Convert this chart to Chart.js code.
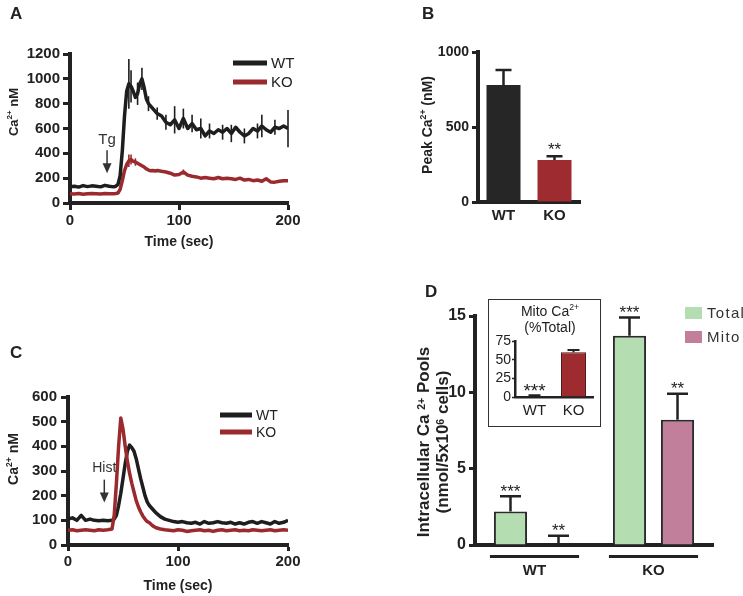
<!DOCTYPE html>
<html>
<head>
<meta charset="utf-8">
<script src="https://cdn.jsdelivr.net/npm/chart.js@4.4.1/dist/chart.umd.min.js"></script>
<style>
  body { margin: 0; width: 743px; height: 596px; position: relative; overflow: hidden; background: #fff;
         font-family: 'Liberation Sans', Arial, sans-serif; color: #222; }
  canvas.full { position: absolute; left: 0; top: 0; }
  .txt { position: absolute; white-space: nowrap; line-height: 1; }
  .letter { font-weight: bold; font-size: 17px; }
  .ytitle { font-weight: bold; transform: translate(-50%, -50%) rotate(-90deg); text-align: center; }
  sup { font-size: 62%; vertical-align: top; position: relative; top: -0.15em; }
  #insetBox { position: absolute; left: 488px; top: 299px; width: 113px; height: 128px;
              border: 1.5px solid #333; box-sizing: border-box; background: #fff; }
  #cI { position: absolute; left: 488px; top: 299px; }
</style>
</head>
<body>
<canvas id="cA" class="full" width="743" height="596"></canvas>
<canvas id="cB" class="full" width="743" height="596"></canvas>
<canvas id="cC" class="full" width="743" height="596"></canvas>
<canvas id="cD" class="full" width="743" height="596"></canvas>
<div id="insetBox"></div>
<canvas id="cI" width="113" height="128"></canvas>

<div class="txt letter" style="left:10px;top:5px">A</div>
<div class="txt letter" style="left:422px;top:5px">B</div>
<div class="txt letter" style="left:10px;top:344px">C</div>
<div class="txt letter" style="left:425px;top:283px">D</div>

<div class="txt ytitle" style="left:13px;top:112px;font-size:13px">Ca<sup>2+</sup> nM</div>
<div class="txt ytitle" style="left:427px;top:125px;font-size:14px">Peak Ca<sup>2+</sup> (nM)</div>
<div class="txt ytitle" style="left:13px;top:459px;font-size:14px">Ca<sup>2+</sup> nM</div>
<div class="txt ytitle" style="left:433px;top:442px;font-size:17px;line-height:19px">Intracellular Ca <sup>2+</sup> Pools<br>(nmol/5x10<sup>6</sup> cells)</div>

<div class="txt" style="left:550px;top:311px;font-size:14px;transform:translate(-50%,-50%)">Mito Ca<sup>2+</sup></div>
<div class="txt" style="left:550px;top:327px;font-size:14px;transform:translate(-50%,-50%)">(%Total)</div>

<script>
// ---- data ----
const timeSec = [0,4,8,12,16,20,24,28,32,36,40,
  42,44,46,48,50,52,54,56,58,60,62,64,66,68,70,72,74,76,78,80,
  84,88,92,96,100,104,108,112,116,120,124,128,132,136,140,144,148,152,156,160,164,168,172,176,180,184,188,192,196,200]

// panel A, thapsigargin
const wtTg = [130,135,128,140,132,138,135,130,142,135,130,
  135,150,220,420,700,900,960,940,900,850,880,960,1000,930,840,800,780,760,740,720,
  700,650,630,670,600,680,600,640,590,600,540,580,560,590,570,600,560,610,570,540,560,600,580,620,590,570,610,600,620,600]
const koTg = [75,72,76,70,74,76,74,72,76,74,75,
  76,80,110,180,260,310,340,350,335,330,320,310,300,290,275,265,260,262,258,262,
  255,250,240,225,230,250,225,215,210,200,205,200,195,205,195,200,195,190,200,185,190,180,185,175,195,170,168,175,180,180]
const wtTgErrAt = [54,56,62,66,72,80,88,96,104,112,120,128,140,148,160,172,176,188,200]
const wtTgErr = [200,130,90,90,60,50,60,110,80,70,80,60,60,70,60,60,90,60,150]
const koTgErrAt = [54,56,60,104]
const koTgErr = [50,40,30,20]

// panel C, histamine
const wtHist = [105,110,100,120,100,105,100,98,100,98,100,
  105,120,160,210,270,330,380,405,395,380,350,310,270,235,200,175,160,150,140,130,
  115,105,100,95,92,95,90,88,92,85,95,88,90,95,90,88,92,85,90,85,92,95,88,95,90,85,95,88,92,100]
const koHist = [60,62,58,60,62,60,58,62,60,62,65,
  120,250,400,515,470,400,340,290,250,215,180,155,135,118,105,95,90,82,75,70,
  65,62,60,58,62,60,55,58,60,62,58,60,55,60,62,58,60,62,58,60,58,62,60,58,60,62,58,60,62,60]

// panel B
const genotypes = ['WT', 'KO']
const peakCa = [780, 280]
const peakErr = [100, 25]
const peakStars = ['', '**']

// panel D
const poolTotal = [2.2, 13.7]
const poolTotalErr = [1.0, 1.2]
const poolMito = [0, 8.2]
const poolMitoErr = [0.6, 1.7]
const totalStars = ['***', '***']
const mitoStars = ['**', '**']

// inset
const mitoPct = [1, 60]
const mitoPctErr = [1.5, 3]
const mitoPctStars = ['***', '']

const WT_COL = '#1e1e1e'
const KO_COL = '#9b2a2e'
const FONT = "'Liberation Sans', Arial, sans-serif"
Chart.defaults.font.family = FONT
Chart.defaults.color = '#222'
Chart.defaults.animation = false

// ---- helpers ----
function frame(left, top, right, bottom, yw, xh, w, h) {
  return { padding: { left: left - yw, top: top, right: (w || 743) - right, bottom: (h || 596) - bottom - xh } }
}
function yAxis(max, step, size, weight, yw, tl, pad, bw) {
  return {
    min: 0, max: max,
    ticks: { stepSize: step, autoSkip: false, font: { size: size, weight: weight }, color: '#222', padding: pad,
             callback: v => String(v) },
    grid: { drawOnChartArea: false, tickLength: tl, tickWidth: bw - 1, tickColor: '#222' },
    border: { width: bw, color: '#222' },
    afterFit: s => { s.width = yw }
  }
}
function catAxis(size, weight, pad, xh, bw) {
  return {
    ticks: { font: { size: size, weight: weight }, color: '#222', padding: pad },
    grid: { display: false, drawTicks: false },
    border: { width: bw, color: '#222' },
    afterFit: s => { s.height = xh }
  }
}
function pts(values) {
  return timeSec.map((t, i) => ({ x: t, y: values[i] }))
}

// ---- plugins ----
const spikes = {
  id: 'spikes',
  beforeDatasetsDraw(chart) {
    const { ctx, scales: { x, y } } = chart
    chart.data.datasets.forEach(ds => {
      if (!ds.spikeAt) return
      ctx.save()
      ctx.strokeStyle = ds.borderColor
      ctx.lineWidth = 1.6
      ds.spikeAt.forEach((t, k) => {
        const p = ds.data.find(d => d.x === t)
        if (!p) return
        const px = x.getPixelForValue(t)
        ctx.beginPath()
        ctx.moveTo(px, y.getPixelForValue(p.y + ds.spikeSize[k]))
        ctx.lineTo(px, y.getPixelForValue(p.y - ds.spikeSize[k]))
        ctx.stroke()
      })
      ctx.restore()
    })
  }
}

const lineKey = {
  id: 'lineKey',
  afterDraw(chart, args, o) {
    const ctx = chart.ctx
    chart.data.datasets.forEach((ds, i) => {
      const y = o.y + i * o.gap
      ctx.save()
      ctx.strokeStyle = ds.borderColor
      ctx.lineWidth = 5
      ctx.beginPath()
      ctx.moveTo(o.x, y)
      ctx.lineTo(o.x + o.len, y)
      ctx.stroke()
      ctx.fillStyle = '#222'
      ctx.font = o.size + 'px ' + FONT
      ctx.textBaseline = 'middle'
      ctx.fillText(ds.label, o.x + o.len + 4, y + 1)
      ctx.restore()
    })
  }
}

const arrowNote = {
  id: 'arrowNote',
  afterDatasetsDraw(chart, args, o) {
    const { ctx, scales: { x, y } } = chart
    const px = x.getPixelForValue(o.at)
    const yTop = y.getPixelForValue(o.from)
    const yTip = y.getPixelForValue(o.to)
    ctx.save()
    ctx.strokeStyle = '#333'
    ctx.fillStyle = '#333'
    ctx.lineWidth = 1.5
    ctx.beginPath()
    ctx.moveTo(px, yTop)
    ctx.lineTo(px, yTip - 8)
    ctx.stroke()
    ctx.beginPath()
    ctx.moveTo(px - 4.5, yTip - 10)
    ctx.lineTo(px + 4.5, yTip - 10)
    ctx.lineTo(px, yTip)
    ctx.closePath()
    ctx.fill()
    ctx.font = o.size + 'px ' + FONT
    ctx.textAlign = 'center'
    ctx.textBaseline = 'middle'
    ctx.fillText(o.label, px, y.getPixelForValue(o.textAt))
    ctx.restore()
  }
}

const barErrors = {
  id: 'barErrors',
  afterDatasetsDraw(chart, args, o) {
    const { ctx } = chart
    const y = chart.scales.y
    chart.data.datasets.forEach((ds, di) => {
      const meta = chart.getDatasetMeta(di)
      meta.data.forEach((bar, i) => {
        const top = y.getPixelForValue(ds.data[i] + ds.errors[i])
        ctx.save()
        ctx.strokeStyle = '#222'
        ctx.lineWidth = o.width
        ctx.beginPath()
        ctx.moveTo(bar.x, bar.y)
        ctx.lineTo(bar.x, top)
        ctx.moveTo(bar.x - o.cap / 2, top)
        ctx.lineTo(bar.x + o.cap / 2, top)
        ctx.stroke()
        if (ds.stars && ds.stars[i]) {
          ctx.fillStyle = '#222'
          ctx.font = o.starSize + 'px ' + FONT
          ctx.textAlign = 'center'
          ctx.textBaseline = 'alphabetic'
          ctx.fillText(ds.stars[i], bar.x, top - o.gap + 0.44 * o.starSize)
        }
        ctx.restore()
      })
    })
  }
}

const groupLines = {
  id: 'groupLines',
  afterDraw(chart, args, o) {
    const ctx = chart.ctx
    const m0 = chart.getDatasetMeta(0), m1 = chart.getDatasetMeta(1)
    ctx.save()
    ctx.fillStyle = '#222'
    m0.data.forEach((b, i) => {
      const b2 = m1.data[i]
      const x0 = b.x - b.width / 2 - 4
      const x1 = b2.x + b2.width / 2 + 4
      ctx.fillRect(x0, chart.chartArea.bottom + o.offset, x1 - x0, 3)
    })
    ctx.restore()
  }
}

const boxKey = {
  id: 'boxKey',
  afterDraw(chart, args, o) {
    const ctx = chart.ctx
    chart.data.datasets.forEach((ds, i) => {
      const y = o.y + i * o.gap
      ctx.save()
      ctx.fillStyle = ds.backgroundColor
      ctx.fillRect(o.x, y, o.w, o.h)
      ctx.fillStyle = '#333'
      ctx.font = o.size + 'px ' + FONT
      ctx.letterSpacing = o.spacing
      ctx.textBaseline = 'middle'
      ctx.fillText(ds.label, o.x + o.w + 5, y + o.h / 2 + 1)
      ctx.restore()
    })
  }
}

// ---- panel A ----
new Chart(document.getElementById('cA'), {
  type: 'line',
  data: {
    datasets: [
      { label: 'WT', data: pts(wtTg), borderColor: WT_COL, borderWidth: 3.5, pointRadius: 0, order: 1,
        borderJoinStyle: 'round', spikeAt: wtTgErrAt, spikeSize: wtTgErr },
      { label: 'KO', data: pts(koTg), borderColor: KO_COL, borderWidth: 3.5, pointRadius: 0, order: 2,
        borderJoinStyle: 'round', spikeAt: koTgErrAt, spikeSize: koTgErr }
    ]
  },
  options: {
    responsive: false,
    layout: frame(70, 54, 288, 203, 60, 47.4),
    plugins: {
      legend: { display: false }, tooltip: { enabled: false },
      lineKey: { x: 233, y: 63, gap: 19, len: 34, size: 15 },
      arrowNote: { at: 34, from: 425, to: 240, textAt: 510, label: 'Tg', size: 15 }
    },
    scales: {
      x: {
        type: 'linear', min: 0, max: 200,
        ticks: { stepSize: 100, font: { size: 15, weight: 'bold' }, color: '#222', padding: 2 },
        grid: { drawOnChartArea: false, tickLength: 7, tickWidth: 3, tickColor: '#222' },
        border: { width: 4, color: '#222' },
        title: { display: true, text: 'Time (sec)', font: { size: 14, weight: 'bold' }, color: '#222', padding: 0 },
        afterFit: s => { s.height = 47.4 }
      },
      y: yAxis(1200, 200, 15, 'bold', 60, 7, 3, 4)
    }
  },
  plugins: [spikes, lineKey, arrowNote]
})

// ---- panel B ----
new Chart(document.getElementById('cB'), {
  type: 'bar',
  data: {
    labels: genotypes,
    datasets: [{
      label: 'Peak', data: peakCa, errors: peakErr, stars: peakStars,
      backgroundColor: ['#262626', '#9e2b2f'], borderWidth: 0,
      barPercentage: 0.667, categoryPercentage: 1
    }]
  },
  options: {
    responsive: false,
    layout: frame(478, 52, 580, 202, 50, 30),
    plugins: {
      legend: { display: false }, tooltip: { enabled: false },
      barErrors: { width: 2.5, cap: 16, gap: 9, starSize: 17 }
    },
    scales: {
      x: catAxis(15, 'bold', 5, 30, 4),
      y: yAxis(1000, 500, 14, 'bold', 50, 6, 3, 4)
    }
  },
  plugins: [barErrors]
})

// ---- panel C ----
new Chart(document.getElementById('cC'), {
  type: 'line',
  data: {
    datasets: [
      { label: 'WT', data: pts(wtHist), borderColor: WT_COL, borderWidth: 3.5, pointRadius: 0, order: 2,
        borderJoinStyle: 'round' },
      { label: 'KO', data: pts(koHist), borderColor: KO_COL, borderWidth: 3.5, pointRadius: 0, order: 1,
        borderJoinStyle: 'round' }
    ]
  },
  options: {
    responsive: false,
    layout: frame(68, 397, 288, 545, 60, 49.9),
    plugins: {
      legend: { display: false }, tooltip: { enabled: false },
      lineKey: { x: 220, y: 415, gap: 17, len: 32, size: 14 },
      arrowNote: { at: 33, from: 265, to: 172, textAt: 312, label: 'Hist', size: 14 }
    },
    scales: {
      x: {
        type: 'linear', min: 0, max: 200,
        ticks: { stepSize: 100, font: { size: 15, weight: 'bold' }, color: '#222', padding: 2 },
        grid: { drawOnChartArea: false, tickLength: 6, tickWidth: 3, tickColor: '#222' },
        border: { width: 4, color: '#222' },
        title: { display: true, text: 'Time (sec)', font: { size: 14, weight: 'bold' }, color: '#222', padding: 0 },
        afterFit: s => { s.height = 49.9 }
      },
      y: yAxis(600, 100, 15, 'bold', 60, 7, 4, 4)
    }
  },
  plugins: [lineKey, arrowNote]
})

// ---- panel D ----
new Chart(document.getElementById('cD'), {
  type: 'bar',
  data: {
    labels: genotypes,
    datasets: [
      { label: 'Total', data: poolTotal, errors: poolTotalErr, stars: totalStars,
        backgroundColor: '#b5ddb2', borderColor: '#2a2a2a', borderWidth: 2,
        barPercentage: 0.69, categoryPercentage: 0.807 },
      { label: 'Mito', data: poolMito, errors: poolMitoErr, stars: mitoStars,
        backgroundColor: '#c27f9c', borderColor: '#2a2a2a', borderWidth: 2,
        barPercentage: 0.69, categoryPercentage: 0.807 }
    ]
  },
  options: {
    responsive: false,
    layout: frame(475, 316, 713, 545, 50, 36),
    plugins: {
      legend: { display: false }, tooltip: { enabled: false },
      barErrors: { width: 2.5, cap: 21, gap: 7, starSize: 17 },
      groupLines: { offset: 10 },
      boxKey: { x: 685, y: 307, gap: 24, w: 17, h: 12, size: 15, spacing: '1.3px' }
    },
    scales: {
      x: catAxis(15, 'bold', 17, 36, 4),
      y: yAxis(15, 5, 16, 'bold', 50, 6, 3, 4)
    }
  },
  plugins: [barErrors, groupLines, boxKey]
})

// ---- inset ----
new Chart(document.getElementById('cI'), {
  type: 'bar',
  data: {
    labels: genotypes,
    datasets: [{
      label: 'Mito %', data: mitoPct, errors: mitoPctErr, stars: mitoPctStars,
      backgroundColor: '#9e2b2f', borderColor: '#4a1416', borderWidth: 1,
      barPercentage: 0.64, categoryPercentage: 1
    }]
  },
  options: {
    responsive: false,
    layout: frame(27, 42, 105, 98, 25, 25, 113, 128),
    plugins: {
      legend: { display: false }, tooltip: { enabled: false },
      barErrors: { width: 2, cap: 12, gap: 6, starSize: 19 }
    },
    scales: {
      x: catAxis(15, 'normal', 5, 25, 2.5),
      y: yAxis(75, 25, 14, 'normal', 25, 3, 1, 2.5)
    }
  },
  plugins: [barErrors]
})
</script>
</body>
</html>
